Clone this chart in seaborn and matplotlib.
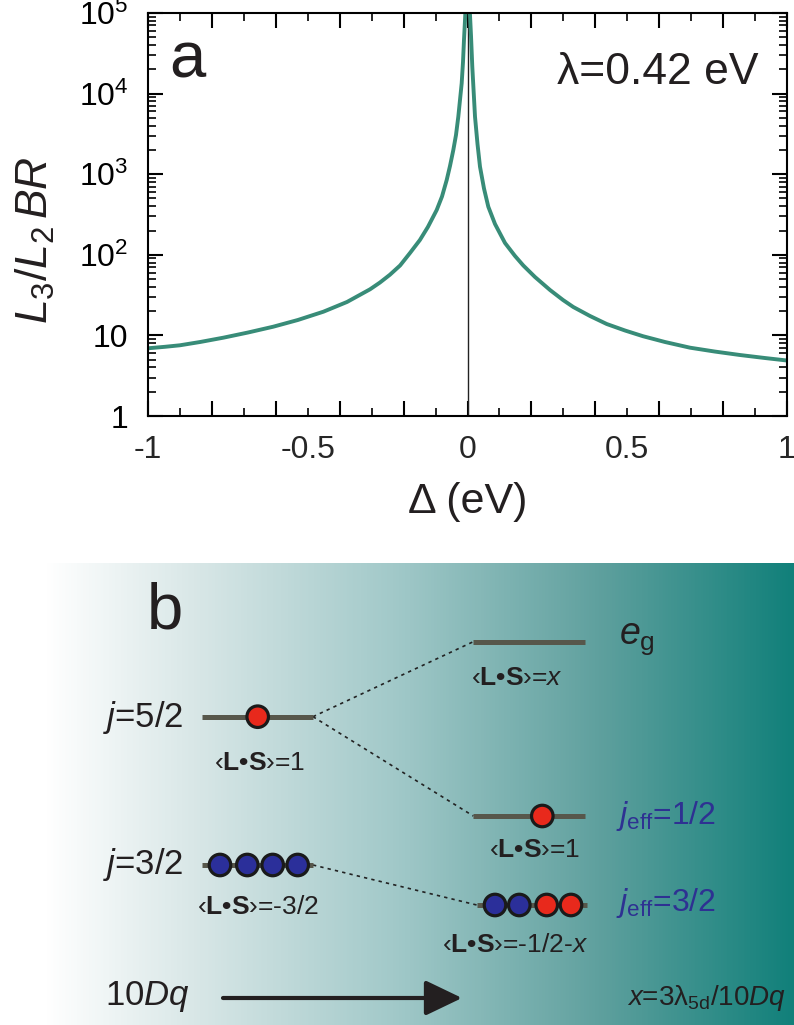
import numpy as np
import pandas as pd
import matplotlib
matplotlib.use("Agg")
import matplotlib.pyplot as plt
import seaborn as sns
from matplotlib.ticker import MultipleLocator, LogLocator, FixedLocator, NullFormatter
from matplotlib.colors import LinearSegmentedColormap

# ---------------- data (panel a) ----------------
delta_left = [-1.0, -0.947, -0.900, -0.837, -0.764, -0.687, -0.608, -0.531, -0.451,
              -0.377, -0.305, -0.274, -0.243, -0.211, -0.180, -0.149, -0.124,
              -0.0964, -0.0798, -0.0651, -0.0548, -0.0444, -0.0360, -0.0288,
              -0.0235, -0.0182, -0.0141, -0.0110, -0.0078, -0.0047]
br_left = [6.92, 7.22, 7.54, 8.28, 9.37, 10.86, 12.82, 15.53, 19.68,
           26.0, 37.33, 45.3, 56.5, 73.7, 105.3, 152.6, 221.3,
           359.7, 528.9, 847.0, 1264.0, 1996.0, 3065.0, 5169.0,
           8330.0, 13420.0, 24660.0, 46240.0, 81900.0, 145000.0]
delta_right = [0.0041, 0.0078, 0.0110, 0.0150, 0.0235, 0.0313, 0.0391, 0.0516,
               0.0651, 0.0861, 0.1174, 0.1487, 0.1746, 0.2113, 0.2582, 0.2989,
               0.3311, 0.3834, 0.4357, 0.4930, 0.5493, 0.6182, 0.6964, 0.7746,
               0.8529, 0.9311, 1.0]
br_right = [145000.0, 95000.0, 51900.0, 21570.0, 5169.0, 2370.0, 1239.0, 665.0,
            395.0, 241.0, 140.1, 96.7, 73.7, 53.0, 36.6, 27.5,
            22.51, 17.41, 13.85, 11.50, 9.77, 8.28, 7.04, 6.30,
            5.71, 5.24, 4.88]
ytick_values = [1, 10, 100, 1e3, 1e4, 1e5]
ytick_labels = ["1", "10", r"$10^2$", r"$10^3$", r"$10^4$", r"$10^5$"]
xtick_values = [-1, -0.5, 0, 0.5, 1]
xtick_labels = ["-1", "-0.5", "0", "0.5", "1"]

# ---------------- data (panel b, schematic) ----------------
level_names = ["j52", "eg", "jeff12", "j32", "jeff32"]
electron_x = [257.7, 542.3, 220, 247.3, 272.7, 297.7, 495, 519.3, 546.7, 571]
electron_y = [716.7, 816, 865, 865, 865, 865, 905, 905, 905, 905]
electron_kind = ["up", "up", "dn", "dn", "dn", "dn", "dn", "dn", "up", "up"]

sns.set_theme(style="ticks")
plt.rcParams["font.family"] = ["Liberation Sans", "DejaVu Sans"]
plt.rcParams["mathtext.fontset"] = "custom"
plt.rcParams["mathtext.rm"] = "Liberation Sans"
plt.rcParams["mathtext.it"] = "Liberation Sans:italic"
plt.rcParams["mathtext.bf"] = "Liberation Sans:bold"
plt.rcParams["axes.unicode_minus"] = False

fig = plt.figure(figsize=(7.94, 10.25), dpi=100)
W, H = 794.0, 1025.0

# ---------------- panel a ----------------
ax = fig.add_axes([148 / W, 1 - 416 / H, 639 / W, 403 / H])
df = pd.DataFrame({"delta": delta_left + delta_right,
                   "br": br_left + br_right,
                   "branch": ["L"] * len(delta_left) + ["R"] * len(delta_right)})
sns.lineplot(data=df, x="delta", y="br", units="branch", ax=ax, color="#388c78",
             lw=2.8, estimator=None, sort=True)
ax.axvline(0, color="#222222", lw=1.0, zorder=1)
ax.set_yscale("log")
ax.set_ylim(1, 1e5)
ax.set_xlim(-1, 1)
ax.yaxis.set_major_locator(FixedLocator(ytick_values))
ax.set_yticklabels(ytick_labels)
ax.yaxis.set_minor_locator(LogLocator(base=10, subs=np.arange(2, 10) * 1.0, numticks=20))
ax.yaxis.set_minor_formatter(NullFormatter())
ax.xaxis.set_major_locator(MultipleLocator(0.2))
ax.xaxis.set_minor_locator(MultipleLocator(0.1))
ax.tick_params(which="both", direction="in", top=True, right=True,
               labelbottom=False, colors="black")
ax.tick_params(which="major", length=10.8, width=1.5)
ax.tick_params(which="minor", length=5.8, width=1.2)
ax.tick_params(axis="y", which="major", labelsize=23, pad=14)
for s in ax.spines.values():
    s.set_linewidth(1.5)
    s.set_color("black")
ax.set_xlabel("")
ax.set_ylabel(r"$L_{\mathrm{3}}/L_{\mathrm{2}}\,BR$", fontsize=32, color="#231f20")
ax.yaxis.set_label_coords(-0.142, 0.437)

sec = ax.secondary_xaxis("bottom")
sec.set_xticks(xtick_values, labels=xtick_labels)
sec.tick_params(length=0, labelsize=23, pad=14)
sec.spines["bottom"].set_visible(False)
sec.set_xlabel("Δ (eV)", fontsize=31, labelpad=12, color="#231f20")

ax.text(0.034, 0.841, "a", transform=ax.transAxes, fontsize=47,
        ha="left", va="baseline", color="#231f20")
ax.text(0.955, 0.824, "λ=0.42 eV", transform=ax.transAxes, fontsize=32,
        ha="right", va="baseline", color="#231f20")

# ---------------- panel b ----------------
axb = fig.add_axes([0, 0, 1, 1 - 563 / H])
axb.set_xlim(0, W)
axb.set_ylim(H, 563)
axb.axis("off")
cmap = LinearSegmentedColormap.from_list(
    "grad", [(0.0, "#ffffff"), (0.207, "#d7e6e6"), (0.474, "#a0c8c8"),
             (0.741, "#5fa09e"), (1.0, "#11807a")])
grad = np.linspace(0, 1, 512)[None, :]
axb.imshow(grad, cmap=cmap, extent=(45, W, H, 563), aspect="auto", zorder=0)

level_col = "#57574b"
levels = {"j52": (202, 313, 716.7), "eg": (473.3, 585, 641.7),
          "jeff12": (473.3, 585, 816), "j32": (202, 313, 865),
          "jeff32": (476.7, 587, 905)}
for name in level_names:
    x0, x1, y = levels[name]
    axb.plot([x0, x1], [y, y], color=level_col, lw=3.6, solid_capstyle="butt", zorder=2)

dot_kw = dict(color="#222222", lw=1.2, dashes=(2, 2.5), zorder=1)
axb.plot([313, 473.3], [716.7, 641.7], **dot_kw)
axb.plot([313, 473.3], [716.7, 816], **dot_kw)
axb.plot([313, 476.7], [865, 905], **dot_kw)

cols = {"up": "#e8291c", "dn": "#2b2f9a"}
axb.scatter(electron_x, electron_y, s=240, c=[cols[k] for k in electron_kind],
            edgecolors="#1a1a1a", linewidths=2.3, zorder=3)

tcol = "#231f20"
bcol = "#2e3192"
axb.text(165, 611, "b", fontsize=47, ha="center", va="center", color=tcol)
axb.text(184, 717, r"$j$=5/2", fontsize=25, ha="right", va="center", color=tcol)
axb.text(184, 864, r"$j$=3/2", fontsize=25, ha="right", va="center", color=tcol)
ls_fs = 19
axb.text(260, 763, r"‹$\mathbf{L•S}$›=1", fontsize=ls_fs, ha="center", va="center", color=tcol)
axb.text(258, 907, r"‹$\mathbf{L•S}$›=-3/2", fontsize=ls_fs, ha="center", va="center", color=tcol)
axb.text(619, 639, r"$e_{\mathrm{g}}$", fontsize=27, ha="left", va="center", color=tcol)
axb.text(517, 678, r"‹$\mathbf{L•S}$›=$x$", fontsize=ls_fs, ha="center", va="center", color=tcol)
axb.text(616, 816, r"$j_{\mathrm{eff}}$=1/2", fontsize=23, ha="left", va="center", color=bcol)
axb.text(535, 850, r"‹$\mathbf{L•S}$›=1", fontsize=ls_fs, ha="center", va="center", color=tcol)
axb.text(616, 903, r"$j_{\mathrm{eff}}$=3/2", fontsize=23, ha="left", va="center", color=bcol)
axb.text(515, 945, r"‹$\mathbf{L•S}$›=-1/2-$x$", fontsize=ls_fs, ha="center", va="center", color=tcol)
axb.text(105, 996, r"10$Dq$", fontsize=25, ha="left", va="center", color=tcol)
axb.text(627, 998, r"$x$=3$\mathrm{λ}_{\mathrm{5d}}$/10$Dq$", fontsize=20,
         ha="left", va="center", color=tcol)
axb.annotate("", xy=(462, 998), xytext=(223, 998),
             arrowprops=dict(arrowstyle="-|>,head_length=1.25,head_width=0.6",
                             mutation_scale=18, lw=3, color=tcol,
                             shrinkA=0, shrinkB=0))

fig.savefig("out.png", dpi=100)
